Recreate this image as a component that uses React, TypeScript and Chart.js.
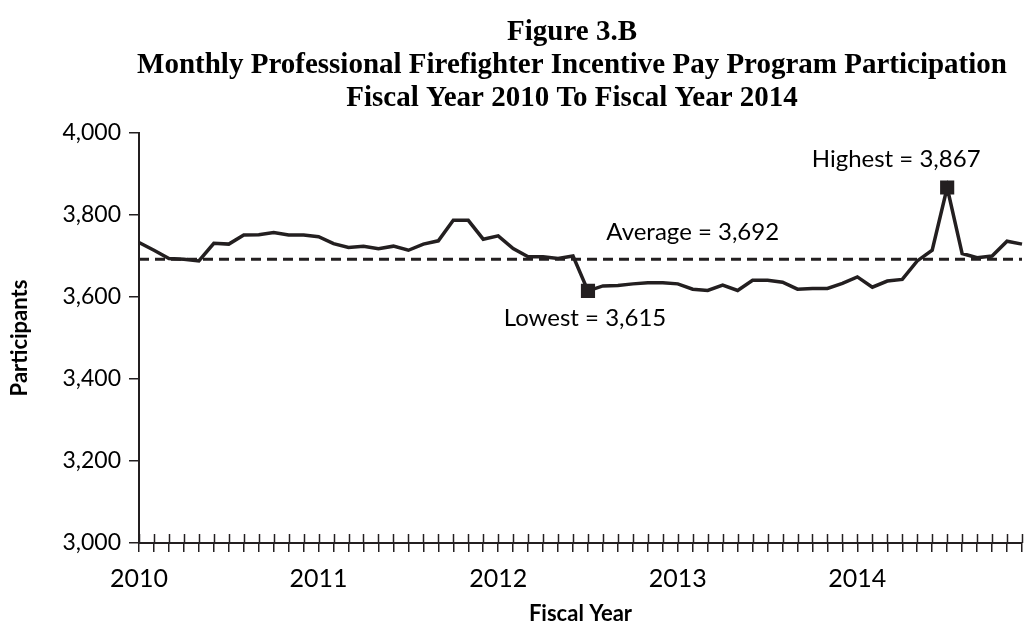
import React, { useEffect, useRef } from 'react';
import { Chart, registerables } from 'chart.js';

Chart.register(...registerables);

// ---- Data ----
const titleLines = [
  'Figure 3.B',
  'Monthly Professional Firefighter Incentive Pay Program Participation',
  'Fiscal Year 2010 To Fiscal Year 2014',
];
const yearLabels = ['2010', '2011', '2012', '2013', '2014'];
const monthsPerYear = 12;
const participants = [
  3733, 3714, 3694, 3692, 3688, 3731, 3729, 3751, 3752, 3757, 3751, 3751,
  3747, 3730, 3721, 3724, 3718, 3724, 3714, 3729, 3737, 3787, 3787, 3741,
  3749, 3718, 3698, 3698, 3694, 3700, 3615, 3627, 3628, 3632, 3635, 3635,
  3632, 3619, 3616, 3629, 3616, 3641, 3641, 3636, 3619, 3621, 3621, 3633,
  3649, 3624, 3639, 3643, 3688, 3714, 3867, 3706, 3696, 3700, 3736, 3729,
];
const averageValue = 3692;
const lowestIndex = 30;
const highestIndex = 54;
const averageLabelIndex = 37;
const yMin = 3000;
const yMax = 4000;
const yStep = 200;
const xTitle = 'Fiscal Year';
const yTitle = 'Participants';

const INK = '#231f20';
const SANS = 'Lato, "Open Sans", sans-serif';

const monthLabels = yearLabels.flatMap((y) =>
  Array.from({ length: monthsPerYear }, (_, m) => `${y}-${m + 1}`)
);

const fmt = (v: number) => v.toLocaleString('en-US');

const textPlugin = {
  id: 'figureTexts',
  afterDatasetsDraw(chart: any) {
    const { ctx, scales, chartArea } = chart;
    const xs = scales.x;
    const ys = scales.y;
    ctx.save();
    // inward half of the x-axis tick marks
    ctx.strokeStyle = INK;
    ctx.lineWidth = 1.5;
    for (let i = 0; i < monthLabels.length; i++) {
      const px = Math.round(xs.getPixelForTick(i)) + 0.5;
      ctx.beginPath();
      ctx.moveTo(px, chartArea.bottom - 9);
      ctx.lineTo(px, chartArea.bottom);
      ctx.stroke();
    }
    // annotations
    ctx.fillStyle = '#000';
    ctx.textAlign = 'center';
    ctx.textBaseline = 'middle';
    ctx.font = `24px ${SANS}`;
    ctx.fillText(
      `Highest = ${fmt(participants[highestIndex])}`,
      xs.getPixelForValue(highestIndex) - 51,
      ys.getPixelForValue(participants[highestIndex]) - 28
    );
    ctx.fillText(
      `Average = ${fmt(averageValue)}`,
      xs.getPixelForValue(averageLabelIndex),
      ys.getPixelForValue(averageValue) - 27
    );
    ctx.fillText(
      `Lowest = ${fmt(participants[lowestIndex])}`,
      xs.getPixelForValue(lowestIndex) - 3,
      ys.getPixelForValue(participants[lowestIndex]) + 27
    );
    // title
    ctx.font = 'bold 29px "Liberation Serif", "Times New Roman", serif';
    const titleY = [33, 66, 99];
    titleLines.forEach((t, i) => ctx.fillText(t, 572, titleY[i]));
    ctx.restore();
  },
};

export default function App() {
  const ref = useRef<HTMLCanvasElement | null>(null);
  useEffect(() => {
    document.body.style.margin = '0';
    const canvas = ref.current;
    if (!canvas) return;
    const chart = new Chart(canvas, {
      type: 'line',
      data: {
        labels: monthLabels,
        datasets: [
          {
            label: 'Participants',
            data: participants,
            borderColor: INK,
            backgroundColor: INK,
            borderWidth: 3.5,
            tension: 0,
            pointStyle: 'rect',
            pointRadius: (c: any) =>
              c.dataIndex === lowestIndex || c.dataIndex === highestIndex ? 10 : 0,
            pointBorderWidth: 0,
            pointBackgroundColor: INK,
            pointHoverRadius: 0,
          },
          {
            label: 'Average',
            data: monthLabels.map(() => averageValue),
            borderColor: INK,
            borderWidth: 3,
            borderDash: [10, 6],
            pointRadius: 0,
            pointHoverRadius: 0,
            fill: false,
          },
        ],
      },
      options: {
        animation: false,
        responsive: false,
        devicePixelRatio: 1,
        events: [],
        layout: { padding: { top: 133, right: 4, left: 0, bottom: 0 } },
        plugins: {
          legend: { display: false },
          title: { display: false },
          tooltip: { enabled: false },
        },
        scales: {
          x: {
            type: 'category',
            offset: false,
            afterFit: (s: any) => {
              s.height = 80;
              s.paddingLeft = 0;
              s.paddingRight = 0;
            },
            grid: {
              display: true,
              drawOnChartArea: false,
              drawTicks: true,
              tickLength: 9,
              color: INK,
              lineWidth: 1.5,
            },
            border: { display: true, color: INK, width: 2 },
            ticks: {
              autoSkip: false,
              maxRotation: 0,
              minRotation: 0,
              padding: 12,
              color: '#000',
              font: { family: SANS, size: 25 },
              callback: (_v: any, i: number) =>
                i % monthsPerYear === 0 ? yearLabels[i / monthsPerYear] : '',
            },
            title: {
              display: true,
              text: xTitle,
              color: '#000',
              font: { family: SANS, size: 22, weight: 'bold', lineHeight: 0.8 },
              padding: { top: 0, bottom: 0 },
            },
          },
          y: {
            min: yMin,
            max: yMax,
            afterFit: (s: any) => {
              s.width = 139;
            },
            grid: {
              display: true,
              drawOnChartArea: false,
              drawTicks: true,
              tickLength: 10,
              color: INK,
              lineWidth: 1.5,
            },
            border: { display: true, color: INK, width: 2 },
            ticks: {
              stepSize: yStep,
              padding: 8,
              color: '#000',
              font: { family: SANS, size: 23 },
              callback: (v: any) => fmt(Number(v)),
            },
            title: {
              display: true,
              text: yTitle,
              color: '#000',
              font: { family: SANS, size: 22, weight: 'bold' },
              padding: { top: 7, bottom: 0 },
            },
          },
        },
      },
      plugins: [textPlugin],
    });
    return () => chart.destroy();
  }, []);
  return (
    <div style={{ width: 1026, height: 623 }}>
      <canvas ref={ref} width={1026} height={623} style={{ display: 'block' }} />
    </div>
  );
}
